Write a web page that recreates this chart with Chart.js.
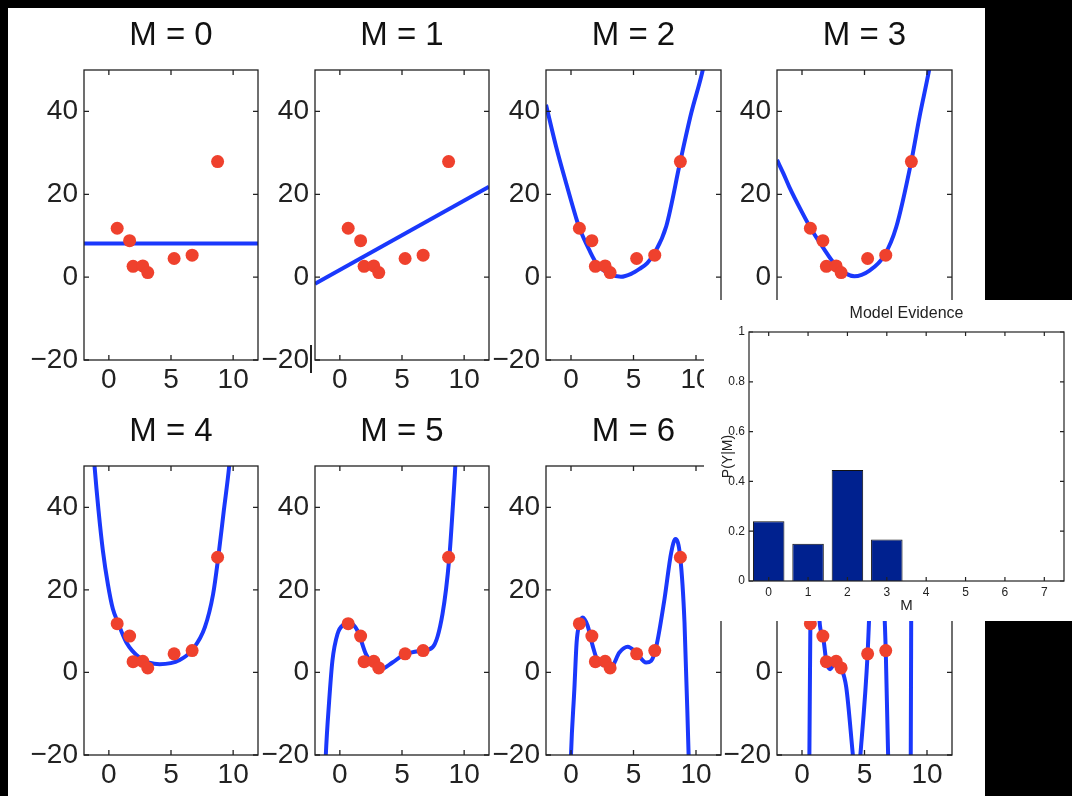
<!DOCTYPE html>
<html>
<head>
<meta charset="utf-8">
<title>Polynomial fits and model evidence</title>
<script src="https://cdn.jsdelivr.net/npm/chart.js@4.4.0/dist/chart.umd.min.js"></script>
<style>
  html, body { margin: 0; padding: 0; background: #000; }
  body { width: 1072px; height: 796px; position: relative; overflow: hidden; }
  #sheet { position: absolute; left: 8px; top: 8px; width: 977px; height: 788px; background: #fff; }
  #inset { position: absolute; left: 704px; top: 300px; width: 368px; height: 321px; background: #fff; z-index: 5; }
  #mark { position: absolute; left: 310px; top: 345px; width: 1.5px; height: 28px; background: #222; }
  canvas { position: absolute; }
</style>
</head>
<body>
<div id="sheet"></div>
<div id="mark"></div>
<div id="inset"><canvas id="evidenceChart" width="368" height="321" style="left:0;top:0"></canvas></div>
<script>
// observed points (same in every panel)
var pointX = [0.67, 1.67, 1.95, 2.73, 3.13, 5.25, 6.7, 8.75];
var pointY = [11.8, 8.8, 2.6, 2.7, 1.1, 4.5, 5.3, 27.9];

// fitted curves
var curveX0 = [-2, 12];
var curveY0 = [8.1, 8.1];
var curveX1 = [-2, 12];
var curveY1 = [-1.6, 21.8];
var curveX2 = [-2, -1.2, -0.4, 0.4, 0.67, 1.47, 2.13, 3.07, 4.0, 4.81, 5.48, 6.1, 6.68, 7.62, 8.74, 9.62, 10.55, 10.8];
var curveY2 = [41.6, 31.6, 22.8, 14.4, 11.9, 6.5, 2.9, 0.8, 0.1, 0.8, 2.0, 3.4, 5.8, 12.3, 27.9, 39.6, 50.1, 54];
var curveX3 = [-2, -1.5, -1.02, 0.05, 0.72, 1.65, 2.73, 4.19, 5.4, 6.6, 7.54, 8.74, 9.41, 10.15, 10.4];
var curveY3 = [28.3, 25.1, 21.8, 15.4, 11.7, 7.3, 2.8, 0.2, 1.6, 5.3, 12.1, 27.9, 38.8, 49.7, 54];
var curveX4 = [-1.25, -1.15, -0.83, -0.48, -0.08, 0.32, 0.73, 1.4, 2.47, 4.09, 5.7, 6.77, 7.72, 8.39, 8.79, 9.25, 9.68, 9.8];
var curveY4 = [54, 49.9, 39.2, 29.5, 21.4, 15.4, 12.1, 7.3, 3.6, 2.0, 3.0, 5.7, 10.9, 19.0, 27.6, 39.2, 49.9, 54];
var curveX5 = [-1.2, -1.13, -0.86, -0.6, -0.19, 0.35, 0.75, 1.42, 2.09, 2.63, 3.3, 4.23, 5.17, 6.65, 7.46, 8.26, 8.8, 9.07, 9.29, 9.35];
var curveY5 = [-26, -20, -6.9, 2.8, 9.3, 11.7, 12.1, 10.1, 4.5, 2.0, 0.8, 2.4, 4.3, 5.3, 6.1, 14.2, 27.6, 39.2, 50, 54];
var curveX6 = [-0.05, 0, 0.27, 0.45, 0.67, 0.93, 1.33, 1.73, 2.13, 2.8, 3.2, 3.87, 4.54, 5.21, 6.01, 6.41, 6.81, 7.48, 8.02, 8.36, 8.74, 9.08, 9.41, 9.45];
var curveY6 = [-26, -20, -4, 7.3, 11.7, 13.3, 11.3, 6.5, 2.8, 1.6, 1.2, 4.8, 6.2, 4.8, 2.4, 2.8, 6.1, 17.8, 29.1, 32.3, 27.9, 12.1, -20, -24];
var curveX7 = [0.55, 0.59, 0.67, 1.0, 1.4, 1.67, 1.95, 2.25, 2.73, 3.13, 3.54, 4.07, 4.2, 4.55, 4.67, 5.25, 5.36, 6.0, 6.62, 6.7, 6.89, 6.95, 7.8, 8.7, 8.75, 8.85];
var curveY7 = [-30, -20, 11.8, 60, 12.5, 8.8, 2.6, 0.8, 2.7, 1.1, -3.6, -20, -24, -24, -20, 4.5, 12.5, 60, 12.5, 5.3, -20, -25, -60, -20, 27.9, 70];

var curveX = [curveX0, curveX1, curveX2, curveX3, curveX4, curveX5, curveX6, curveX7];
var curveY = [curveY0, curveY1, curveY2, curveY3, curveY4, curveY5, curveY6, curveY7];

var xTicks = [0, 5, 10];
var yTicks = [-20, 0, 20, 40];

// inset: model evidence
var orders = ['0', '1', '2', '3', '4', '5', '6', '7'];
var evidence = [0.24, 0.15, 0.446, 0.167, 0, 0, 0, 0];
var evidenceTicks = [0, 0.2, 0.4, 0.6, 0.8, 1];

var FONT = '"Liberation Sans", Arial, Helvetica, sans-serif';
var BLUE = '#1a38fc';
var RED = '#ef412d';
var INK = '#222';

// plot boxes [left, right, top, bottom]
var cols = [[84, 258], [315, 489], [546, 721], [777, 952]];
var rows = [[70, 360], [466, 755]];

// box round the plot area with inward ticks
var framePlugin = {
    id: 'frame',
    afterDraw: function (chart) {
        var a = chart.chartArea;
        var ctx = chart.ctx;
        var xs = chart.scales.x;
        var ys = chart.scales.y;
        var t = chart.options.plugins.frame.tick;
        ctx.save();
        ctx.strokeStyle = INK;
        ctx.lineWidth = chart.options.plugins.frame.width;
        ctx.strokeRect(a.left, a.top, a.right - a.left, a.bottom - a.top);
        ctx.beginPath();
        for (var i = 0; i < xs.ticks.length; i++) {
            var px = xs.getPixelForTick(i);
            ctx.moveTo(px, a.top); ctx.lineTo(px, a.top + t);
            ctx.moveTo(px, a.bottom); ctx.lineTo(px, a.bottom - t);
        }
        for (var j = 0; j < ys.ticks.length; j++) {
            var py = ys.getPixelForTick(j);
            ctx.moveTo(a.left, py); ctx.lineTo(a.left + t, py);
            ctx.moveTo(a.right, py); ctx.lineTo(a.right - t, py);
        }
        ctx.stroke();
        ctx.restore();
    }
};

function makePanel(m) {
    var c = cols[m % 4];
    var r = rows[Math.floor(m / 4)];
    var cv = document.createElement('canvas');
    cv.width = c[1] - c[0] + 82;
    cv.height = r[1] - r[0] + 104;
    cv.style.left = (c[0] - 72) + 'px';
    cv.style.top = (r[0] - 62) + 'px';
    document.body.appendChild(cv);

    var pts = pointX.map(function (x, i) { return {x: x, y: pointY[i]}; });
    var crv = curveX[m].map(function (x, i) { return {x: x, y: curveY[m][i]}; });

    new Chart(cv, {
        type: 'line',
        data: {
            datasets: [
                {
                    data: pts,
                    showLine: false,
                    pointRadius: 6.5,
                    pointBackgroundColor: RED,
                    pointBorderWidth: 0,
                    order: 0
                },
                {
                    data: crv,
                    borderColor: BLUE,
                    borderWidth: 4,
                    pointRadius: 0,
                    cubicInterpolationMode: 'monotone',
                    clip: 0,
                    order: 1
                }
            ]
        },
        plugins: [framePlugin],
        options: {
            responsive: false,
            animation: false,
            events: [],
            layout: {padding: {left: 0, right: 10, top: 0, bottom: 0}},
            elements: {line: {capBezierPoints: false}},
            plugins: {
                legend: {display: false},
                tooltip: {enabled: false},
                frame: {tick: 5, width: 1.3},
                title: {
                    display: true,
                    text: 'M = ' + m,
                    fullSize: false,
                    color: '#111',
                    font: {family: FONT, size: 33, weight: 'normal', lineHeight: 1.2},
                    padding: {top: 8.2, bottom: 14.2}
                }
            },
            scales: {
                x: {
                    type: 'linear',
                    min: -2,
                    max: 12,
                    afterBuildTicks: function (s) { s.ticks = xTicks.map(function (v) { return {value: v}; }); },
                    afterFit: function (s) { s.height = 42; },
                    grid: {display: false, drawTicks: false},
                    border: {display: false},
                    ticks: {padding: 3, color: INK, maxRotation: 0, autoSkip: false, font: {family: FONT, size: 28}}
                },
                y: {
                    min: -20,
                    max: 50,
                    afterBuildTicks: function (s) { s.ticks = yTicks.map(function (v) { return {value: v}; }); },
                    afterFit: function (s) { s.width = 72; },
                    grid: {display: false, drawTicks: false},
                    border: {display: false},
                    ticks: {
                        padding: 6,
                        color: INK,
                        autoSkip: false,
                        font: {family: FONT, size: 28},
                        callback: function (v) { return v < 0 ? '\u2212' + Math.abs(v) : String(v); }
                    }
                }
            }
        }
    });
}

for (var m = 0; m < 8; m++) {
    makePanel(m);
}

//- EVIDENCE BAR CHART -
new Chart(document.getElementById('evidenceChart'), {
    type: 'bar',
    data: {
        labels: orders,
        datasets: [{
            data: evidence,
            backgroundColor: '#00218f',
            borderColor: '#111',
            borderWidth: 1,
            barPercentage: 0.8,
            categoryPercentage: 1.0
        }]
    },
    plugins: [framePlugin],
    options: {
        responsive: false,
        animation: false,
        events: [],
        layout: {padding: {left: 0, right: 8, top: 0, bottom: 0}},
        plugins: {
            legend: {display: false},
            tooltip: {enabled: false},
            frame: {tick: 4, width: 1.2},
            title: {
                display: true,
                text: 'Model Evidence',
                fullSize: false,
                color: INK,
                font: {family: FONT, size: 16, weight: 'normal', lineHeight: 1.2},
                padding: {top: 4.4, bottom: 8.4}
            }
        },
        scales: {
            x: {
                afterFit: function (s) { s.height = 40; },
                grid: {display: false, drawTicks: false},
                border: {display: false},
                ticks: {padding: 4, color: INK, font: {family: FONT, size: 12}},
                title: {display: true, text: 'M', color: INK, font: {family: FONT, size: 15}, padding: {top: 0, bottom: 6}}
            },
            y: {
                min: 0,
                max: 1,
                afterBuildTicks: function (s) { s.ticks = evidenceTicks.map(function (v) { return {value: v}; }); },
                afterFit: function (s) { s.width = 45; },
                grid: {display: false, drawTicks: false},
                border: {display: false},
                ticks: {
                    padding: 4,
                    color: INK,
                    font: {family: FONT, size: 12},
                    callback: function (v) { return String(v); }
                },
                title: {display: true, text: 'P(Y|M)', color: INK, font: {family: FONT, size: 14}, padding: {top: 15.6, bottom: 0}}
            }
        }
    }
});
</script>
</body>
</html>
